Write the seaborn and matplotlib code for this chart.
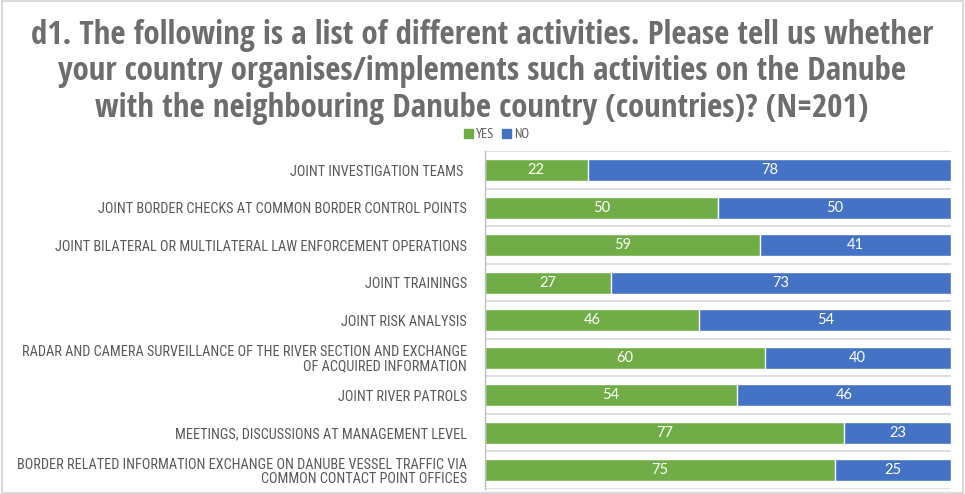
import matplotlib
matplotlib.use("Agg")
import matplotlib.pyplot as plt
import matplotlib.font_manager as fm
from matplotlib.patches import Patch, Rectangle
import seaborn as sns
import pandas as pd
import numpy as np

categories = [
    "JOINT INVESTIGATION TEAMS ",
    "JOINT BORDER CHECKS AT COMMON BORDER CONTROL POINTS",
    "JOINT BILATERAL OR MULTILATERAL LAW ENFORCEMENT OPERATIONS",
    "JOINT TRAININGS",
    "JOINT RISK ANALYSIS",
    "RADAR AND CAMERA SURVEILLANCE OF THE RIVER SECTION AND EXCHANGE\nOF ACQUIRED INFORMATION",
    "JOINT RIVER PATROLS",
    "MEETINGS, DISCUSSIONS AT MANAGEMENT LEVEL",
    "BORDER RELATED INFORMATION EXCHANGE ON DANUBE VESSEL TRAFFIC VIA\nCOMMON CONTACT POINT OFFICES",
]
yes_values = [22, 50, 59, 27, 46, 60, 54, 77, 75]
no_values = [78, 50, 41, 73, 54, 40, 46, 23, 25]
series_names = ["YES", "NO"]
title = ("d1. The following is a list of different activities. Please tell us whether\n"
         "your country organises/implements such activities on the Danube\n"
         "with the neighbouring Danube country (countries)? (N=201)")

sns.set_theme(style="white")
names = {f.name for f in fm.fontManager.ttflist}


def pick(cands):
    for c in cands:
        if c in names:
            return c
    return "DejaVu Sans"


TITLE_FONT = pick(["Open Sans Condensed", "PT Sans Narrow", "Roboto Condensed", "Fira Sans Condensed"])
LABEL_FONT = pick(["Roboto Condensed", "Barlow Semi Condensed", "PT Sans Narrow", "Lato"])
NUM_FONT = pick(["Lato", "Liberation Sans", "DejaVu Sans"])
LEG_FONT = pick(["PT Sans Narrow", "Open Sans Condensed", "Roboto Condensed"])
plt.rcParams["font.family"] = [LABEL_FONT, "DejaVu Sans"]

label_prop = fm.FontProperties(family=LABEL_FONT, weight="normal", size=9)
num_prop = fm.FontProperties(family=NUM_FONT, weight="normal", stretch="normal", size=10.5)

GREEN = "#70AD47"
BLUE = "#4472C4"
GRAY = "#595959"

df = pd.DataFrame({"cat": categories, "yes": yes_values, "no": no_values})
df["total"] = df["yes"] + df["no"]

fig = plt.figure(figsize=(9.65, 4.94), dpi=100)
ax = fig.add_axes([0.5026, 0.0101, 0.4829, 0.6835])

sns.barplot(data=df, y="cat", x="total", color=BLUE, orient="h", width=0.58,
            saturation=1, ax=ax)
sns.barplot(data=df, y="cat", x="yes", color=GREEN, orient="h", width=0.58,
            saturation=1, ax=ax)

for i, (y, n) in enumerate(zip(yes_values, no_values)):
    ax.text(y / 2, i, str(y), ha="center", va="center", color="white", fontproperties=num_prop)
    ax.text(y + n / 2, i, str(n), ha="center", va="center", color="white", fontproperties=num_prop)

ax.set_xlim(0, 100)
ax.set_ylim(len(categories) - 0.5, -0.5)
ax.set_xlabel("")
ax.set_ylabel("")
ax.set_xticks([])
ax.set_yticks(range(len(categories)))
ax.set_yticklabels(categories, color=GRAY, linespacing=1.05, fontproperties=label_prop)
ax.tick_params(axis="y", length=0, pad=13)
ax.set_yticks(np.arange(-0.5, len(categories), 1), minor=True)
ax.grid(False)
ax.grid(which="minor", axis="y", color="#d9d9d9", linewidth=1.2)
ax.tick_params(which="minor", length=0)
for s in ["top", "right", "bottom"]:
    ax.spines[s].set_visible(False)
ax.spines["left"].set_color("#bfbfbf")
ax.spines["left"].set_linewidth(1)
ax.set_axisbelow(True)

t = fig.text(0.4995, 0.962, title, ha="center", va="top", fontsize=20, fontweight="bold",
             color="#6d6d6d", linespacing=1.14, family=TITLE_FONT)

leg = fig.legend(handles=[Patch(color=GREEN, label=series_names[0]),
                          Patch(color=BLUE, label=series_names[1])],
                 loc="center", bbox_to_anchor=(0.5145, 0.727), ncol=2, frameon=False,
                 handlelength=0.65, handleheight=0.65, handletextpad=0.2,
                 columnspacing=0.6, labelcolor=GRAY, prop={"family": LEG_FONT, "size": 10})

# scale fonts to match reference text widths
fig.canvas.draw()
r = fig.canvas.get_renderer()
w = t.get_window_extent(r).width
t.set_fontsize(20 * 904.0 / max(1, w))
lab = ax.get_yticklabels()[2]
lw = lab.get_window_extent(r).width
new = min(11.0, 9 * 414.0 / max(1, lw))
for l in ax.get_yticklabels():
    l.set_fontsize(new)

fig.patches.append(Rectangle((0.002, 0.003), 0.996, 0.994, transform=fig.transFigure,
                             fill=False, edgecolor="#d9d9d9", linewidth=1.5))

fig.savefig("out.png", dpi=100)
